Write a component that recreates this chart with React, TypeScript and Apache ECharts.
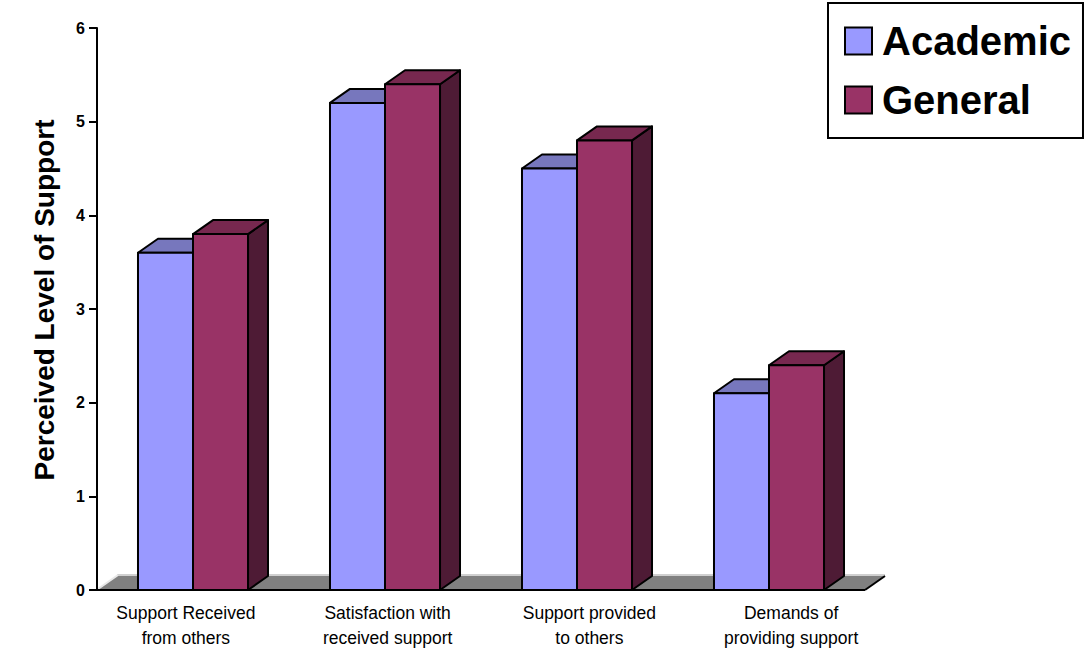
import React, { useEffect, useRef } from "react";
import * as echarts from "echarts";

const categories = [
  "Support Received\nfrom others",
  "Satisfaction with\nreceived support",
  "Support provided\nto others",
  "Demands of\nproviding support",
];
const academic = [3.6, 5.2, 4.5, 2.1];
const general = [3.8, 5.4, 4.8, 2.4];
const seriesNames = ["Academic", "General"];
const yMin = 0;
const yMax = 6;
const yInterval = 1;

const FONT = "Arial, 'Liberation Sans', sans-serif";

const palettes = [
  { front: "#9999FF", top: "#7777BD", side: "#4D4D80" },
  { front: "#993366", top: "#77284F", side: "#4E1B35" },
];

const DEPTH_X = 20;
const DEPTH_Y = 14;

function makeBarRender(slot: number) {
  return (params: any, api: any) => {
    const cat = api.value(0);
    const v = api.value(1);
    const top = api.coord([cat, v]);
    const base = api.coord([cat, 0]);
    const band = api.size([1, 0])[0];
    const bw = band * 0.2865;
    const x0 = top[0] - bw + slot * bw;
    const yt = top[1];
    const yb = base[1];
    const dx = DEPTH_X;
    const dy = DEPTH_Y;
    const pal = palettes[slot];
    const stroke = { stroke: "#000", lineWidth: 2, lineJoin: "round" };
    return {
      type: "group",
      children: [
        {
          type: "polygon",
          shape: { points: [[x0 + bw, yt], [x0 + bw + dx, yt - dy], [x0 + bw + dx, yb - dy], [x0 + bw, yb]] },
          style: { fill: pal.side, ...stroke },
        },
        {
          type: "polygon",
          shape: { points: [[x0, yt], [x0 + dx, yt - dy], [x0 + bw + dx, yt - dy], [x0 + bw, yt]] },
          style: { fill: pal.top, ...stroke },
        },
        {
          type: "rect",
          shape: { x: x0, y: yt, width: bw, height: yb - yt },
          style: { fill: pal.front, ...stroke },
        },
      ],
    };
  };
}

function floorRender(params: any, api: any) {
  const cs = params.coordSys;
  const x = cs.x;
  const yb = cs.y + cs.height;
  const w = cs.width;
  const dx = DEPTH_X;
  const dy = DEPTH_Y;
  return {
    type: "group",
    children: [
      {
        type: "polygon",
        shape: { points: [[x, yb], [x + w, yb], [x + w + dx, yb - dy], [x + dx, yb - dy]] },
        style: { fill: "#808080", stroke: null },
      },
      {
        type: "line",
        shape: { x1: x + dx, y1: yb - dy - 1, x2: x + w + dx, y2: yb - dy - 1 },
        style: { stroke: "#D0D0D0", lineWidth: 2 },
      },
      {
        type: "line",
        shape: { x1: x + 1, y1: yb - 1, x2: x + dx + 1, y2: yb - dy - 1 },
        style: { stroke: "#E8E8E8", lineWidth: 2 },
      },
      {
        type: "line",
        shape: { x1: x + w, y1: yb, x2: x + w + dx, y2: yb - dy },
        style: { stroke: "#000", lineWidth: 2 },
      },
      {
        type: "line",
        shape: { x1: x, y1: yb, x2: x + w, y2: yb },
        style: { stroke: "#000", lineWidth: 2 },
      },
    ],
  };
}

export default function App() {
  const ref = useRef<HTMLDivElement>(null);
  useEffect(() => {
    if (!ref.current) return;
    const chart = echarts.init(ref.current, null, { renderer: "svg" });
    const option: any = {
      animation: false,
      backgroundColor: "#ffffff",
      grid: [
        { left: 97, top: 28, width: 768, height: 562 },
        { left: 85, top: 28, width: 807, height: 562 },
      ],
      legend: {
        orient: "vertical",
        left: 828,
        top: 3,
        padding: [18, 12, 18, 16],
        itemGap: 19,
        itemWidth: 27,
        itemHeight: 27,
        icon: "rect",
        borderColor: "#000",
        borderWidth: 2,
        itemStyle: { borderColor: "#000", borderWidth: 2 },
        textStyle: {
          fontFamily: FONT,
          fontSize: 40,
          fontWeight: "bold",
          color: "#000",
          padding: [0, 0, 0, 5],
        },
        data: seriesNames,
      },
      xAxis: [
        {
          type: "category",
          gridIndex: 0,
          data: categories,
          axisLine: { show: false },
          axisTick: { show: false },
          axisLabel: { show: false },
        },
        {
          type: "category",
          gridIndex: 1,
          data: categories,
          axisLine: { show: false },
          axisTick: { show: false },
          axisLabel: {
            fontFamily: FONT,
            fontSize: 17.5,
            color: "#000",
            lineHeight: 25,
            margin: 12,
            interval: 0,
          },
        },
      ],
      yAxis: [
        {
          type: "value",
          gridIndex: 0,
          min: yMin,
          max: yMax,
          interval: yInterval,
          name: "Perceived Level of Support",
          nameLocation: "middle",
          nameGap: 39,
          nameRotate: 90,
          nameTextStyle: {
            fontFamily: FONT,
            fontSize: 28,
            fontWeight: "bold",
            color: "#000",
            padding: [0, 0, 0, 18],
          },
          axisLine: { show: true, lineStyle: { color: "#000", width: 2 } },
          axisTick: { show: true, inside: false, length: 8, lineStyle: { color: "#000", width: 2 } },
          axisLabel: {
            fontFamily: FONT,
            fontSize: 16,
            fontWeight: "bold",
            color: "#000",
            margin: 12,
          },
          splitLine: { show: false },
          z: 5,
        },
        {
          type: "value",
          gridIndex: 1,
          min: yMin,
          max: yMax,
          show: false,
        },
      ],
      series: [
        {
          type: "custom",
          name: "floor",
          xAxisIndex: 0,
          yAxisIndex: 0,
          data: [[0, 0]],
          renderItem: floorRender,
          silent: true,
          z: 1,
        },
        {
          type: "custom",
          name: seriesNames[0],
          xAxisIndex: 0,
          yAxisIndex: 0,
          itemStyle: { color: palettes[0].front },
          encode: { x: 0, y: 1 },
          data: categories.map((_, i) => [i, academic[i]]),
          renderItem: makeBarRender(0),
          z: 2,
        },
        {
          type: "custom",
          name: seriesNames[1],
          xAxisIndex: 0,
          yAxisIndex: 0,
          itemStyle: { color: palettes[1].front },
          encode: { x: 0, y: 1 },
          data: categories.map((_, i) => [i, general[i]]),
          renderItem: makeBarRender(1),
          z: 3,
        },
      ],
    };
    chart.setOption(option);
    return () => chart.dispose();
  }, []);
  return (
    <div
      ref={ref}
      style={{ position: "fixed", left: 0, top: 0, width: 1089, height: 650, background: "#fff" }}
    />
  );
}
